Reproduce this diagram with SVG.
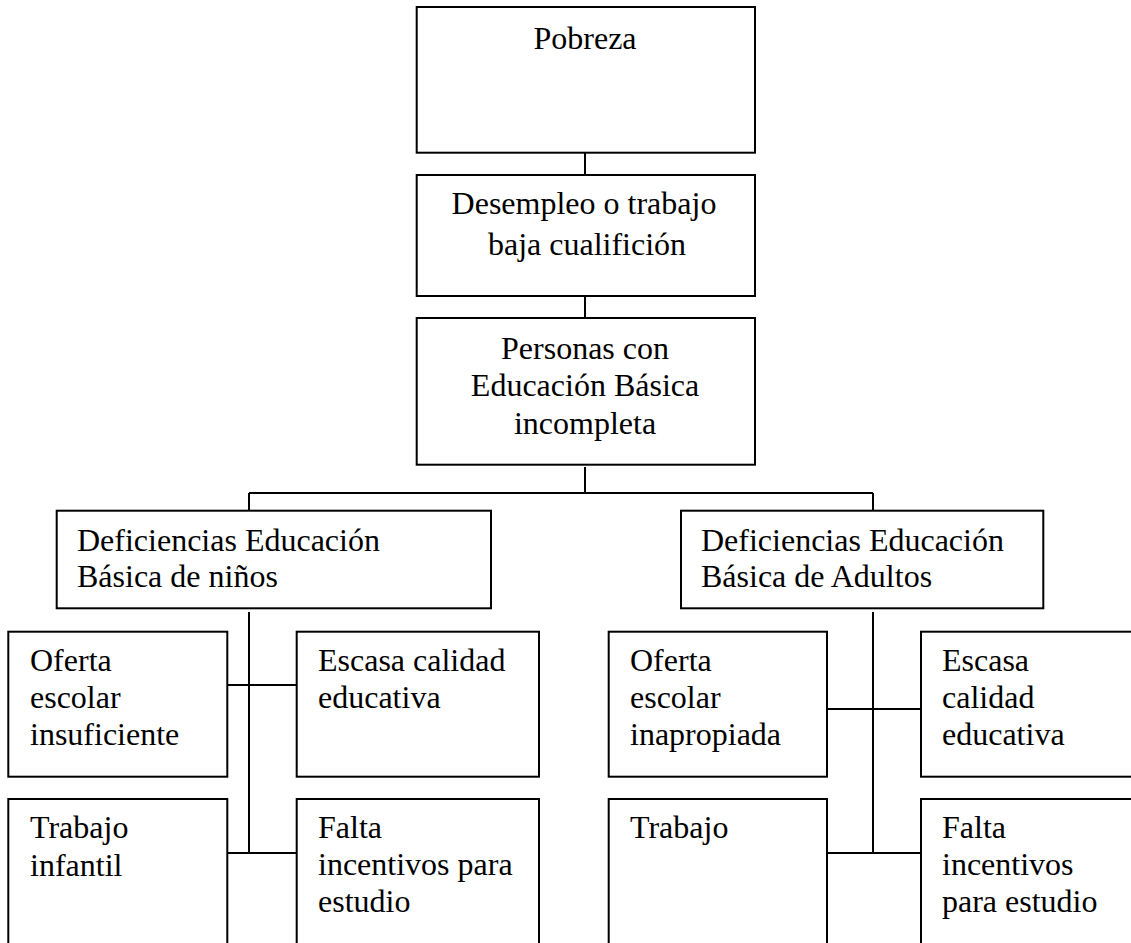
<svg xmlns="http://www.w3.org/2000/svg" width="1131" height="943" viewBox="0 0 1131 943">
<style>
.box{fill:#fff;stroke:#000;stroke-width:2}
.c{stroke:#000;stroke-width:2;fill:none}
text{font-family:"Liberation Serif","Times New Roman",serif;font-size:32px;fill:#000}
.m{text-anchor:middle}
</style>
<rect width="1131" height="943" fill="#fff"/>
<g id="connectors">
<path class="c" d="M585,152V175M585,296V318M585,467V493M249,493H873M249,493V511M873,493V511M249,612V853M227,685H297M227,853H297M873,612V853M827,709H921M827,853H921"/>
</g>
<g id="pobreza">
<rect class="box" x="416.7" y="7" width="338.3" height="145.7"/>
<text class="m" x="585" y="49">Pobreza</text>
</g>
<g id="desempleo">
<rect class="box" x="416.7" y="175" width="338.3" height="121"/>
<text class="m" x="584" y="214">Desempleo o trabajo</text>
<text class="m" x="587" y="255">baja cualifición</text>
</g>
<g id="personas">
<rect class="box" x="416.7" y="318" width="338.3" height="146.7"/>
<text class="m" x="585" y="358.5">Personas con</text>
<text class="m" x="585" y="396">Educación Básica</text>
<text class="m" x="585" y="433.5">incompleta</text>
</g>
<g id="def-ninos">
<rect class="box" x="56.7" y="510.7" width="434.3" height="97.6"/>
<text x="77" y="550.7">Deficiencias Educación</text>
<text x="77" y="586.7">Básica de niños</text>
</g>
<g id="def-adultos">
<rect class="box" x="681" y="510.7" width="362.3" height="97.6"/>
<text x="701" y="550.7">Deficiencias Educación</text>
<text x="701" y="586.7">Básica de Adultos</text>
</g>
<g id="oferta-ninos">
<rect class="box" x="8.3" y="631.7" width="219" height="145"/>
<text x="30" y="670.7">Oferta</text>
<text x="30" y="708">escolar</text>
<text x="30" y="745">insuficiente</text>
</g>
<g id="escasa-ninos">
<rect class="box" x="296.7" y="631.7" width="242.3" height="145"/>
<text x="318" y="670.7">Escasa calidad</text>
<text x="318" y="708">educativa</text>
</g>
<g id="trabajo-ninos">
<rect class="box" x="8.3" y="799" width="219" height="170"/>
<text x="30" y="838">Trabajo</text>
<text x="30" y="876">infantil</text>
</g>
<g id="falta-ninos">
<rect class="box" x="296.7" y="799" width="242.3" height="170"/>
<text x="318" y="838">Falta</text>
<text x="318" y="875">incentivos para</text>
<text x="318" y="912">estudio</text>
</g>
<g id="oferta-adultos">
<rect class="box" x="608.7" y="631.7" width="218.3" height="145"/>
<text x="630" y="670.7">Oferta</text>
<text x="630" y="708">escolar</text>
<text x="630" y="745">inapropiada</text>
</g>
<g id="escasa-adultos">
<rect class="box" x="921" y="631.7" width="230" height="145"/>
<text x="942" y="670.7">Escasa</text>
<text x="942" y="708">calidad</text>
<text x="942" y="745">educativa</text>
</g>
<g id="trabajo-adultos">
<rect class="box" x="608.7" y="799" width="218.3" height="170"/>
<text x="630" y="838">Trabajo</text>
</g>
<g id="falta-adultos">
<rect class="box" x="921" y="799" width="230" height="170"/>
<text x="942" y="838">Falta</text>
<text x="942" y="875">incentivos</text>
<text x="942" y="912">para estudio</text>
</g>
</svg>
